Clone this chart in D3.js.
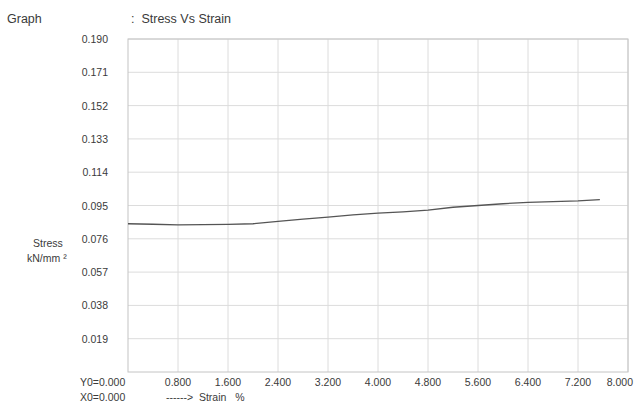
<!DOCTYPE html>
<html>
<head>
<meta charset="utf-8">
<script src="https://cdn.jsdelivr.net/npm/d3@7"></script>
<style>
  body { margin: 0; background: #fff; }
  text { font-family: "Liberation Sans", Arial, sans-serif; fill: #3a3a3a; }
</style>
</head>
<body>
<div id="wrapper"></div>
<script>
// strain (%) and stress (kN/mm2)
const strain = [0, 0.4, 0.8, 1.2, 1.6, 2.0, 2.4, 2.8, 3.2, 3.6, 4.0, 4.4, 4.8, 5.2, 5.6, 6.0, 6.4, 6.8, 7.2, 7.55]
const stress = [0.0846, 0.0843, 0.0840, 0.0841, 0.0842, 0.0846, 0.0860, 0.0872, 0.0884, 0.0896,
  0.0906, 0.0914, 0.0924, 0.0940, 0.0950, 0.0960, 0.0968, 0.0972, 0.0976, 0.0984]

const yTicks = [0.019, 0.038, 0.057, 0.076, 0.095, 0.114, 0.133, 0.152, 0.171, 0.190]
const xTicks = [0.8, 1.6, 2.4, 3.2, 4.0, 4.8, 5.6, 6.4, 7.2, 8.0]

const data = strain.map((s, i) => ({ x: s, y: stress[i] }))

let dimensions = {
  width: 634,
  height: 405,
  margin: { top: 39, right: 6, bottom: 33, left: 128 },
}
dimensions.boundedWidth = dimensions.width - dimensions.margin.left - dimensions.margin.right
dimensions.boundedHeight = dimensions.height - dimensions.margin.top - dimensions.margin.bottom

const xScale = d3.scaleLinear()
  .domain([0, 8])
  .range([0, dimensions.boundedWidth])

const yScale = d3.scaleLinear()
  .domain([0, 0.19])
  .range([dimensions.boundedHeight, 0])

const svg = d3.select("#wrapper")
  .append("svg")
  .attr("width", dimensions.width)
  .attr("height", dimensions.height)

// header
svg.append("text").attr("x", 7).attr("y", 23).attr("font-size", 12.5).text("Graph")
svg.append("text").attr("x", 131).attr("y", 23).attr("font-size", 12.5).attr("xml:space", "preserve").text(":  Stress Vs Strain")

const bounds = svg.append("g")
  .attr("transform", `translate(${dimensions.margin.left},${dimensions.margin.top})`)

// grid
bounds.append("g")
  .selectAll("line")
  .data(yTicks)
  .join("line")
  .attr("x1", 0)
  .attr("x2", dimensions.boundedWidth)
  .attr("y1", d => yScale(d))
  .attr("y2", d => yScale(d))
  .attr("stroke", "#dcdcdc")

bounds.append("g")
  .selectAll("line")
  .data(xTicks)
  .join("line")
  .attr("x1", d => xScale(d))
  .attr("x2", d => xScale(d))
  .attr("y1", 0)
  .attr("y2", dimensions.boundedHeight)
  .attr("stroke", "#dcdcdc")

bounds.append("rect")
  .attr("width", dimensions.boundedWidth)
  .attr("height", dimensions.boundedHeight)
  .attr("fill", "none")
  .attr("stroke", "#c4c4c4")

// y labels
bounds.append("g")
  .selectAll("text")
  .data(yTicks)
  .join("text")
  .attr("x", -20)
  .attr("y", d => yScale(d) + 4)
  .attr("text-anchor", "end")
  .attr("font-size", 10.5)
  .text(d => d3.format(".3f")(d))

// x labels (last one kept inside the page)
bounds.append("g")
  .selectAll("text")
  .data(xTicks)
  .join("text")
  .attr("x", d => d === 8 ? dimensions.width - dimensions.margin.left - 1 : xScale(d))
  .attr("y", dimensions.boundedHeight + 14)
  .attr("text-anchor", d => d === 8 ? "end" : "middle")
  .attr("font-size", 10.5)
  .text(d => d3.format(".3f")(d))

svg.append("text").attr("x", 80).attr("y", 386).attr("font-size", 10.5).text("Y0=0.000")
svg.append("text").attr("x", 80).attr("y", 401).attr("font-size", 10.5).text("X0=0.000")
svg.append("text").attr("x", 166).attr("y", 401).attr("font-size", 10.5).attr("xml:space", "preserve").text("------>  Strain   %")

// y axis title
svg.append("text").attr("x", 33).attr("y", 247).attr("font-size", 10.5).text("Stress")
svg.append("text").attr("x", 27).attr("y", 262).attr("font-size", 10.5).text("kN/mm \u00b2")

const lineGenerator = d3.line()
  .x(d => xScale(d.x))
  .y(d => yScale(d.y))

bounds.append("path")
  .attr("d", lineGenerator(data))
  .attr("fill", "none")
  .attr("stroke", "#555")
  .attr("stroke-width", 1.3)
</script>
</body>
</html>
